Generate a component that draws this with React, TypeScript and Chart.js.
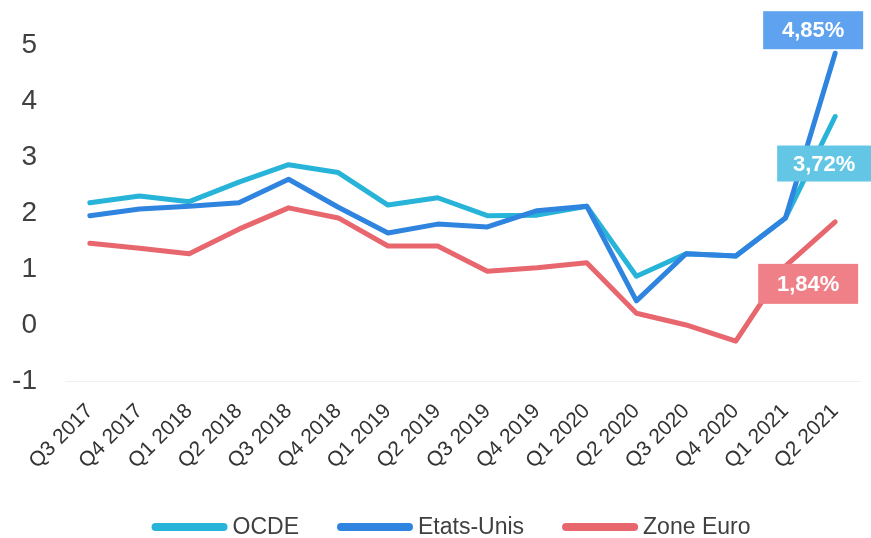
import React, { useEffect, useRef } from "react";
import { Chart, registerables } from "chart.js";

Chart.register(...registerables);

const categories = [
  "Q3 2017", "Q4 2017", "Q1 2018", "Q2 2018", "Q3 2018", "Q4 2018",
  "Q1 2019", "Q2 2019", "Q3 2019", "Q4 2019", "Q1 2020", "Q2 2020",
  "Q3 2020", "Q4 2020", "Q1 2021", "Q2 2021",
];

const ocde = [2.18, 2.3, 2.2, 2.55, 2.86, 2.72, 2.14, 2.27, 1.95, 1.96, 2.12, 0.87, 1.27, 1.23, 1.91, 3.72];
const etatsUnis = [1.95, 2.07, 2.12, 2.18, 2.6, 2.1, 1.64, 1.8, 1.75, 2.04, 2.12, 0.43, 1.27, 1.23, 1.91, 4.85];
const zoneEuro = [1.46, 1.37, 1.27, 1.71, 2.09, 1.91, 1.41, 1.41, 0.96, 1.02, 1.11, 0.21, 0.0, -0.29, 1.05, 1.84];

const seriesNames = ["OCDE", "Etats-Unis", "Zone Euro"];
const lineColors = ["#27b4d8", "#2f84df", "#e8666d"];
const boxColors = ["#62c6e4", "#5fa2ef", "#ef8088"];
const yMin = -1;
const yMax = 5;

const FONT = "'Liberation Sans', Arial, sans-serif";
const fmt = (v: number) => v.toFixed(2).replace(".", ",") + "%";

const endLabelPlugin = {
  id: "endLabels",
  afterDatasetsDraw(chart: any) {
    const ctx = chart.ctx;
    const cfg: Record<number, { dx: number; dy: number; w: number; h: number }> = {
      0: { dx: -11, dy: 47, w: 94, h: 36 },
      1: { dx: -22, dy: -23, w: 100, h: 38 },
      2: { dx: -27, dy: 62, w: 100, h: 40 },
    };
    chart.data.datasets.forEach((ds: any, i: number) => {
      const meta = chart.getDatasetMeta(i);
      const pt = meta.data[meta.data.length - 1];
      if (!pt) return;
      const c = cfg[i];
      const cx = pt.x + c.dx;
      const cy = pt.y + c.dy;
      ctx.save();
      ctx.fillStyle = boxColors[i];
      ctx.fillRect(cx - c.w / 2, cy - c.h / 2, c.w, c.h);
      ctx.fillStyle = "#ffffff";
      ctx.font = "bold 22px " + FONT;
      ctx.textAlign = "center";
      ctx.textBaseline = "middle";
      ctx.fillText(fmt(ds.data[ds.data.length - 1]), cx, cy + 1);
      ctx.restore();
    });
  },
};

// Legend drawn at the bottom from the datasets' labels and colours
const bottomLegendPlugin = {
  id: "bottomLegend",
  afterDraw(chart: any) {
    const ctx = chart.ctx;
    const sample = 76;
    const gapText = 5;
    const gapItem = 38;
    const cy = 527;
    ctx.save();
    ctx.font = "23px " + FONT;
    const items = chart.data.datasets.map((ds: any, i: number) => ({
      text: ds.label,
      color: lineColors[i],
      w: ctx.measureText(ds.label).width,
    }));
    const total =
      items.reduce((s: number, it: any) => s + sample + gapText + it.w, 0) +
      gapItem * (items.length - 1);
    let x = 451 - total / 2;
    items.forEach((it: any) => {
      ctx.strokeStyle = it.color;
      ctx.lineWidth = 8;
      ctx.lineCap = "round";
      ctx.beginPath();
      ctx.moveTo(x + 4, cy);
      ctx.lineTo(x + sample - 4, cy);
      ctx.stroke();
      ctx.fillStyle = "#404040";
      ctx.textAlign = "left";
      ctx.textBaseline = "middle";
      ctx.fillText(it.text, x + sample + gapText, cy + 1);
      x += sample + gapText + it.w + gapItem;
    });
    ctx.restore();
  },
};

export default function App() {
  const ref = useRef<HTMLCanvasElement | null>(null);

  useEffect(() => {
    document.body.style.margin = "0";
    if (!ref.current) return;
    const seriesData = [ocde, etatsUnis, zoneEuro];
    const orders = [1, 0, 2];
    const chart = new Chart(ref.current, {
      type: "line",
      data: {
        labels: categories,
        datasets: seriesData.map((d, i) => ({
          label: seriesNames[i],
          data: d,
          borderColor: lineColors[i],
          backgroundColor: lineColors[i],
          borderWidth: 5,
          pointRadius: 0,
          tension: 0,
          order: orders[i],
          borderJoinStyle: "round" as const,
          borderCapStyle: "round" as const,
        })),
      },
      options: {
        animation: false,
        responsive: false,
        maintainAspectRatio: false,
        layout: { padding: { top: 38, left: 10, right: 11, bottom: 58 } },
        plugins: {
          tooltip: { enabled: false },
          legend: { display: false },
        },
        scales: {
          x: {
            offset: true,
            grid: { display: false, drawTicks: false },
            border: { display: true, color: "#f0f0f0", dash: [6, 6] },
            afterFit: (scale: any) => {
              scale.height = 99;
              scale.paddingLeft = 0;
              scale.paddingRight = 0;
            },
            ticks: {
              font: { family: FONT, size: 21 },
              color: "#333333",
              minRotation: 45,
              maxRotation: 45,
              padding: 18,
            },
          },
          y: {
            min: yMin,
            max: yMax,
            grid: { display: false, drawTicks: false },
            border: { display: false },
            afterFit: (scale: any) => {
              scale.width = 55;
            },
            ticks: {
              stepSize: 1,
              font: { family: FONT, size: 28 },
              color: "#404040",
              padding: 28,
            },
          },
        },
      },
      plugins: [endLabelPlugin, bottomLegendPlugin],
    });
    return () => chart.destroy();
  }, []);

  return (
    <div style={{ width: 871, height: 538, background: "#fff" }}>
      <canvas ref={ref} width={871} height={538} />
    </div>
  );
}
